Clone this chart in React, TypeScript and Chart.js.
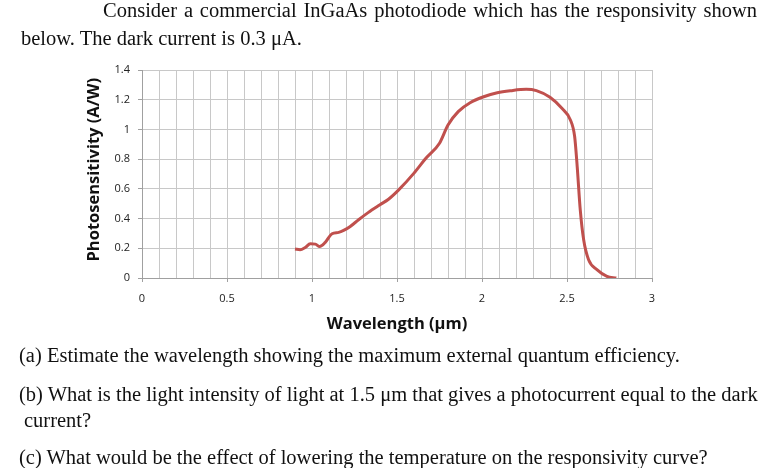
import React, { useEffect, useRef } from "react";
import { Chart, registerables } from "chart.js";

Chart.register(...registerables);

const wavelengths = [0.9, 0.93, 0.96, 0.99, 1.02, 1.045, 1.078, 1.118, 1.157, 1.186, 1.225, 1.274, 1.33, 1.4, 1.45, 1.51, 1.6, 1.67, 1.75, 1.8, 1.86, 1.93, 2.01, 2.09, 2.17, 2.26, 2.32, 2.4, 2.47, 2.52, 2.545, 2.56, 2.578, 2.598, 2.627, 2.676, 2.735, 2.79];
const responsivity = [0.195, 0.19, 0.205, 0.23, 0.228, 0.212, 0.24, 0.298, 0.307, 0.32, 0.347, 0.392, 0.44, 0.493, 0.53, 0.593, 0.706, 0.806, 0.907, 1.03, 1.12, 1.18, 1.22, 1.247, 1.261, 1.27, 1.261, 1.216, 1.142, 1.064, 0.952, 0.75, 0.459, 0.257, 0.123, 0.056, 0.011, 0.0];

const xTickLabels = ["0", "0.5", "1", "1.5", "2", "2.5", "3"];
const yTickLabels = ["0", "0.2", "0.4", "0.6", "0.8", "1", "1.2", "1.4"];

const xTitle = "Wavelength (μm)";
const yTitle = "\u00a0\u00a0Photosensitivity (A/W)";

const intro1 = "Consider a commercial InGaAs photodiode which has the responsivity shown";
const intro2 = "below. The dark current is 0.3 μA.";
const qa = "(a) Estimate the wavelength showing the maximum external quantum efficiency.";
const qb1 = "(b) What is the light intensity of light at 1.5 μm that gives a photocurrent equal to the dark";
const qb2 = "current?";
const qc = "(c) What would be the effect of lowering the temperature on the responsivity curve?";

const isHalf = (v: number) => Math.abs(v * 2 - Math.round(v * 2)) < 1e-6;

export default function App() {
  const ref = useRef<HTMLCanvasElement | null>(null);
  useEffect(() => {
    if (!ref.current) return;
    const chart = new Chart(ref.current, {
      type: "scatter",
      data: {
        datasets: [
          {
            data: wavelengths.map((x, i) => ({ x, y: responsivity[i] })),
            showLine: true,
            borderColor: "#c0504d",
            borderWidth: 3,
            pointRadius: 0,
            cubicInterpolationMode: "monotone",
          },
        ],
      },
      options: {
        responsive: false,
        animation: false,
        layout: { padding: { left: 84, right: 125, top: 70, bottom: 134 } },
        plugins: { legend: { display: false }, tooltip: { enabled: false } },
        scales: {
          x: {
            type: "linear",
            min: 0,
            max: 3,
            afterFit: (s: any) => { s.height = 56; },
            ticks: {
              stepSize: 0.1,
              autoSkip: false,
              maxRotation: 0,
              padding: 10,
              color: "#222",
              font: { family: "Open Sans", size: 11 },
              callback: (v: any) => {
                const n = Number(v);
                if (!isHalf(n)) return "";
                return xTickLabels[Math.round(n * 2)];
              },
            },
            grid: {
              color: "#c8c8c8",
              tickLength: 4,
              tickColor: (c: any) => (c.tick && isHalf(c.tick.value) ? "#a0a0a0" : "rgba(0,0,0,0)"),
            },
            border: { color: "#a0a0a0" },
            title: {
              display: true,
              text: xTitle,
              color: "#111",
              padding: 0,
              font: { family: "Open Sans", size: 16.5, weight: "bold" },
            },
          },
          y: {
            min: 0,
            max: 1.4,
            afterFit: (s: any) => { s.width = 58; },
            ticks: {
              stepSize: 0.2,
              padding: 8,
              color: "#222",
              font: { family: "Open Sans", size: 11 },
              callback: (v: any) => yTickLabels[Math.round(Number(v) / 0.2)],
            },
            grid: { color: "#c8c8c8", tickLength: 4, tickColor: "#a0a0a0" },
            border: { color: "#a0a0a0" },
            title: {
              display: true,
              text: yTitle,
              color: "#111",
              padding: 0,
              font: { family: "Open Sans", size: 16.5, weight: "bold" },
            },
          },
        },
      },
    } as any);
    return () => chart.destroy();
  }, []);

  const textBase: React.CSSProperties = {
    position: "absolute",
    fontFamily: "'Liberation Serif', 'Times New Roman', serif",
    fontSize: 20.5,
    lineHeight: "20px",
    color: "#111",
    whiteSpace: "nowrap",
  };

  return (
    <div style={{ position: "absolute", left: 0, top: 0, width: 777, height: 468, background: "#fff", overflow: "hidden" }}>
      <canvas ref={ref} width={777} height={468} style={{ position: "absolute", left: 0, top: 0, width: 777, height: 468 }} />
      <div style={{ ...textBase, left: 103, top: 0, width: 654, textAlign: "justify", textAlignLast: "justify" as any }}>{intro1}</div>
      <div style={{ ...textBase, left: 21, top: 28 }}>{intro2}</div>
      <div style={{ ...textBase, left: 19, top: 345 }}>{qa}</div>
      <div style={{ ...textBase, left: 19, top: 384 }}>{qb1}</div>
      <div style={{ ...textBase, left: 24, top: 410 }}>{qb2}</div>
      <div style={{ ...textBase, left: 19, top: 447 }}>{qc}</div>
    </div>
  );
}
